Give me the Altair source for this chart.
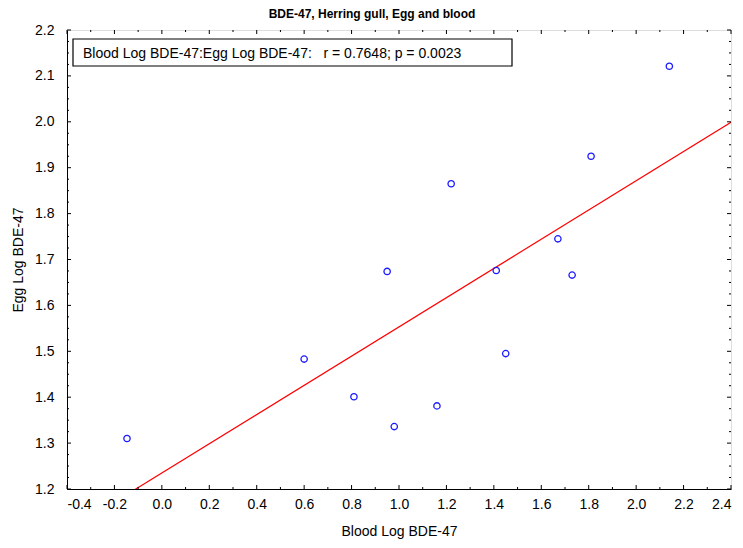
import altair as alt
import pandas as pd

blood_log = [-0.147, 0.60, 0.81, 0.98, 0.95, 1.16, 1.22, 1.41, 1.45, 1.67, 1.73, 1.81, 2.14]
egg_log = [1.310, 1.483, 1.401, 1.336, 1.674, 1.381, 1.865, 1.676, 1.495, 1.745, 1.666, 1.925, 2.121]
x_ticks = [-0.4, -0.2, 0.0, 0.2, 0.4, 0.6, 0.8, 1.0, 1.2, 1.4, 1.6, 1.8, 2.0, 2.2, 2.4]
x_minor = [-0.3, -0.1, 0.1, 0.3, 0.5, 0.7, 0.9, 1.1, 1.3, 1.5, 1.7, 1.9, 2.1, 2.3]
y_ticks = [1.2, 1.3, 1.4, 1.5, 1.6, 1.7, 1.8, 1.9, 2.0, 2.1, 2.2]
y_minor = [1.225, 1.25, 1.275, 1.325, 1.35, 1.375, 1.425, 1.45, 1.475,
           1.525, 1.55, 1.575, 1.625, 1.65, 1.675, 1.725, 1.75, 1.775,
           1.825, 1.85, 1.875, 1.925, 1.95, 1.975, 2.025, 2.05, 2.075,
           2.125, 2.15, 2.175]
annotation = "Blood Log BDE-47:Egg Log BDE-47:\u00a0\u00a0\u00a0r = 0.7648; p = 0.0023"

df = pd.DataFrame({"x": blood_log, "y": egg_log})
FONT = "Liberation Sans"
LABEL_EXPR = "replace(datum.label, '\u2212', '-')"

xs = alt.Scale(domain=[-0.4, 2.4], nice=False, zero=False)
ys = alt.Scale(domain=[1.2, 2.2], nice=False, zero=False)

xaxis = alt.Axis(values=x_ticks, format=".1f", grid=False, ticks=False, tickSize=0,
                 labelFontSize=14, titleFontSize=14, titleFontWeight="normal",
                 labelFont=FONT, titleFont=FONT, titlePadding=13, labelPadding=8,
                 labelExpr=LABEL_EXPR, domainColor="black", labelColor="black",
                 titleColor="black")
yaxis = alt.Axis(values=y_ticks, format=".1f", grid=False, ticks=False, tickSize=0,
                 labelFontSize=14, titleFontSize=14, titleFontWeight="normal",
                 labelFont=FONT, titleFont=FONT, titlePadding=9, labelPadding=13,
                 labelExpr=LABEL_EXPR, domainColor="black", labelColor="black",
                 titleColor="black")


def xenc(field):
    return alt.X(f"{field}:Q", scale=xs, title="Blood Log BDE-47", axis=xaxis)


def yenc(field):
    return alt.Y(f"{field}:Q", scale=ys, title="Egg Log BDE-47", axis=yaxis)


points = alt.Chart(df).mark_point(shape="circle", filled=False, color="#1a1aff",
                                  size=40, strokeWidth=1.3, opacity=1).encode(
    x=xenc("x"), y=yenc("y"))

line = alt.Chart(df).transform_regression("x", "y", extent=[-0.4, 2.4]).mark_line(
    color="#ff0000", strokeWidth=1.2, clip=True).encode(x=xenc("x"), y=yenc("y"))

xmaj_df = pd.DataFrame({"x": x_ticks})
xmin_df = pd.DataFrame({"x": x_minor})
ymaj_df = pd.DataFrame({"y": y_ticks})
ymin_df = pd.DataFrame({"y": y_minor})

tick_layers = []
for d, ln in ((xmaj_df, 4), (xmin_df, 2)):
    tick_layers.append(alt.Chart(d).mark_rule(color="black", strokeWidth=1).encode(
        x=xenc("x"), y=alt.value(0), y2=alt.value(ln)))
    tick_layers.append(alt.Chart(d).mark_rule(color="black", strokeWidth=1).encode(
        x=xenc("x"), y=alt.value(459), y2=alt.value(459 - ln)))
for d, ln in ((ymaj_df, 4), (ymin_df, 2)):
    tick_layers.append(alt.Chart(d).mark_rule(color="black", strokeWidth=1).encode(
        y=yenc("y"), x=alt.value(0), x2=alt.value(ln)))
    tick_layers.append(alt.Chart(d).mark_rule(color="black", strokeWidth=1).encode(
        y=yenc("y"), x=alt.value(664), x2=alt.value(664 - ln)))

ann_df = pd.DataFrame({"t": [annotation]})
box = alt.Chart(ann_df).mark_rect(
    fill="white", stroke="black", strokeWidth=1.2).encode(
    x=alt.value(6), x2=alt.value(445), y=alt.value(9), y2=alt.value(36))

text = alt.Chart(ann_df).mark_text(
    align="left", baseline="alphabetic", fontSize=14, font=FONT, color="black").encode(
    x=alt.value(16), y=alt.value(28), text="t:N")

chart = alt.layer(line, points, *tick_layers, box, text).properties(
    width=664, height=459,
    title=alt.TitleParams("BDE-47, Herring gull, Egg and blood", font=FONT, fontSize=12,
                          fontWeight="bold", color="black", offset=2, dx=-27,
                          anchor="middle"),
    autosize=alt.AutoSizeParams(type="none"),
    padding={"left": 59, "top": 22, "right": 4, "bottom": 51},
).configure_view(stroke="black", strokeWidth=1.3).configure(background="white")

chart.save("out.html", embed_options={"renderer": "svg", "actions": False})
